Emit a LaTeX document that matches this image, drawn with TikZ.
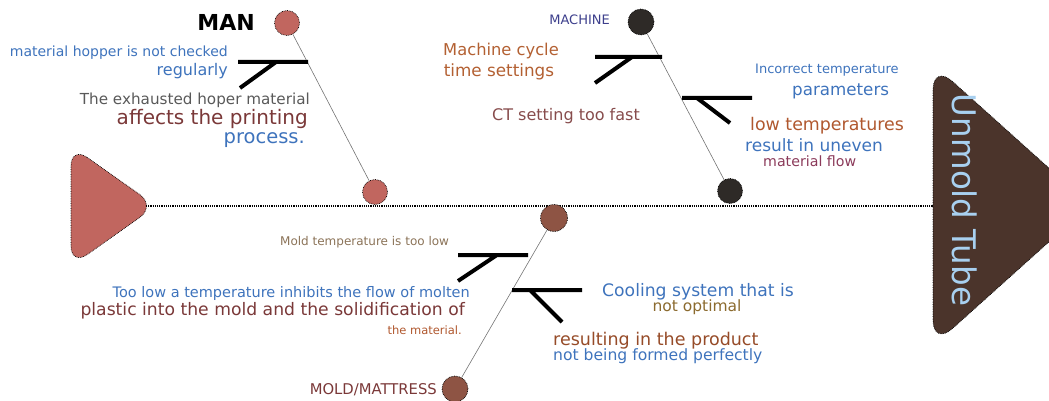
\documentclass[tikz,border=0pt]{standalone}
\usepackage{fontspec}
\setmainfont{DejaVu Sans}
\usepackage{xcolor}
\usepackage{tikz}
\definecolor{tailred}{HTML}{C1665F}
\definecolor{machdark}{HTML}{2E2A27}
\definecolor{moldbrown}{HTML}{8E5444}
\definecolor{headbrown}{HTML}{4B342B}
\definecolor{txtblue}{HTML}{3E73BC}
\definecolor{txtred}{HTML}{7A3838}
\definecolor{txtorange}{HTML}{B0582F}
\definecolor{txtnavy}{HTML}{3D3F8C}
\definecolor{txttan}{HTML}{8B7358}
\definecolor{txtolive}{HTML}{8B6A2E}
\definecolor{txtplum}{HTML}{8B3A5A}
\definecolor{headtxt}{HTML}{A8D0F0}

\begin{document}
\begin{tikzpicture}[x=1pt,y=-1pt,
                    dot/.style n args={2}{circle,fill=#1,draw=black,
                    densely dotted,line width=0.7pt,
                    minimum size=#2pt,inner sep=0pt},
                    txt/.style n args={2}{text=#1,inner sep=0pt,
                    font=\fontsize{#2}{#2}\selectfont},
                    bone/.style={black!55,line width=0.6pt},
                    rib/.style={line width=4pt},
                    outl/.style={draw=black,densely dotted,line width=0.7pt,
                    rounded corners=20pt}]
    \useasboundingbox (0,0) rectangle (1049,401);
    % tail and head
    \filldraw[outl,fill=tailred] (71,146) -- (156,206) -- (71,266) -- cycle;
    \filldraw[outl,fill=headbrown,rounded corners=26pt] (933,64) -- (1090,205) -- (933,346) -- cycle;
    \node[txt={headtxt}{32.5},rotate=-90] (effect) at (965,200) {Unmold Tube};
    \coordinate (tailtip) at (146,206);
    \coordinate (headbase) at (933,206);
    \draw[densely dotted,line width=1.2pt] (tailtip) -- (headbase);

    % MAN
    \node[dot={tailred}{25}] (man) at (287,23) {};
    \node[dot={tailred}{25}] (manend) at (375,192) {};
    \draw[bone] (man) -- (manend);
    \coordinate (m1a) at (238,62);
    \coordinate (m1b) at (308,62);
    \coordinate (m1c) at (276,62);
    \coordinate (m1d) at (240,88);
    \draw[rib] (m1a) -- (m1b) (m1c) -- (m1d);
    \node[txt={black}{22},font=\fontsize{22}{22}\selectfont\bfseries,anchor=east] (manlbl) at (255,22) {MAN};
    \node[txt={txtblue}{14},anchor=east] (m1t1) at (228,53) {material hopper is not checked};
    \node[txt={txtblue}{16},anchor=east] (m1t2) at (228,71) {regularly};
    \node[txt={black!65}{15.2},anchor=east] (m1t3) at (310,100) {The exhausted hoper material};
    \node[txt={txtred}{20},anchor=east] (m1t4) at (308,119) {affects the printing};
    \node[txt={txtblue}{19.5},anchor=east] (m1t5) at (305,140) {process.};

    % MACHINE
    \node[dot={machdark}{26}] (mach) at (641,22) {};
    \node[dot={machdark}{25}] (machend) at (730,191) {};
    \draw[bone] (mach) -- (machend);
    \coordinate (k1a) at (595,57);
    \coordinate (k1b) at (662,57);
    \coordinate (k1c) at (632,57);
    \coordinate (k1d) at (595,83);
    \draw[rib] (k1a) -- (k1b) (k1c) -- (k1d);
    \coordinate (k2a) at (682,98);
    \coordinate (k2b) at (752,98);
    \coordinate (k2c) at (697,98);
    \coordinate (k2d) at (730,123);
    \draw[rib] (k2a) -- (k2b) (k2c) -- (k2d);
    \node[txt={txtnavy}{13},anchor=east] (machlbl) at (610,20) {MACHINE};
    \node[txt={txtorange!80!brown}{16.3}] (k1t1) at (501,51) {Machine cycle};
    \node[txt={txtorange!80!brown}{16.8}] (k1t2) at (499,72) {time settings};
    \node[txt={txtred!90!white}{16},anchor=west] (k1t3) at (492,116) {CT setting too fast};
    \node[txt={txtblue}{13},anchor=west] (k2t1) at (755,70) {Incorrect temperature};
    \node[txt={txtblue}{16.7},anchor=west] (k2t2) at (792,91) {parameters};
    \node[txt={txtorange}{17.4},anchor=west] (k2t3) at (750,126) {low temperatures};
    \node[txt={txtblue}{17},anchor=west] (k2t4) at (745,145) {result in uneven};
    \node[txt={txtplum}{14.2},anchor=west] (k2t5) at (763,161) {material flow};

    % MOLD/MATTRESS
    \node[dot={moldbrown}{27}] (mold) at (554,218) {};
    \node[dot={moldbrown}{26}] (moldend) at (455,389) {};
    \draw[bone] (mold) -- (moldend);
    \coordinate (d1a) at (458,255);
    \coordinate (d1b) at (528,255);
    \coordinate (d1c) at (497,255);
    \coordinate (d1d) at (458,281);
    \draw[rib] (d1a) -- (d1b) (d1c) -- (d1d);
    \coordinate (d2a) at (512,290);
    \coordinate (d2b) at (582,290);
    \coordinate (d2c) at (530,290);
    \coordinate (d2d) at (562,322);
    \draw[rib] (d2a) -- (d2b) (d2c) -- (d2d);
    \node[txt={txtred}{14.8},anchor=east] (moldlbl) at (437,390) {MOLD/MATTRESS};
    \node[txt={txttan}{12},anchor=west] (d1t1) at (280,242) {Mold temperature is too low};
    \node[txt={txtblue}{14.5},anchor=east] (d1t2) at (470,293) {Too low a temperature inhibits the flow of molten};
    \node[txt={txtred}{17.2},anchor=east] (d1t3) at (465,311) {plastic into the mold and the solidification of};
    \node[txt={txtorange}{11.5},anchor=east] (d1t4) at (462,330) {the material.};
    \node[txt={txtblue}{17.2},anchor=west] (d2t1) at (602,292) {Cooling system that is};
    \node[txt={txtolive}{15.5}] (d2t2) at (697,307) {not optimal};
    \node[txt={txtorange!85!black}{17.5},anchor=west] (d2t3) at (553,341) {resulting in the product};
    \node[txt={txtblue}{15.6},anchor=west] (d2t4) at (553,356) {not being formed perfectly};
\end{tikzpicture}
\end{document}
